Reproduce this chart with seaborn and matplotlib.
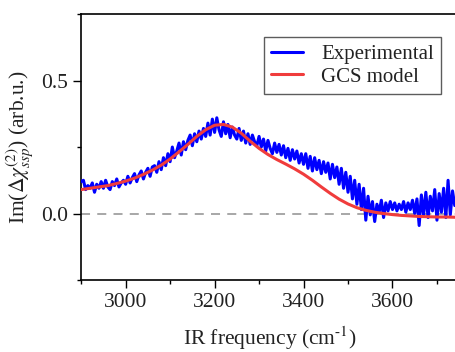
import numpy as np
import pandas as pd
import matplotlib
matplotlib.use("Agg")
import matplotlib.pyplot as plt
from matplotlib.ticker import MultipleLocator, FixedLocator
import seaborn as sns

# Experimental spectrum, sampled every 5 cm^-1 from 2900 to 3740 cm^-1
exp_freq = list(range(2900, 3745, 5))
exp_im = [
    0.12, 0.125, 0.09, 0.105, 0.095, 0.115, 0.08, 0.11, 0.095, 0.12,
    0.095, 0.125, 0.10, 0.09, 0.12, 0.105, 0.13, 0.10, 0.115, 0.125,
    0.11, 0.14, 0.115, 0.135, 0.15, 0.12, 0.145, 0.16, 0.13, 0.155,
    0.17, 0.14, 0.175, 0.18, 0.155, 0.195, 0.165, 0.21, 0.18, 0.225,
    0.195, 0.25, 0.21, 0.235, 0.265, 0.22, 0.27, 0.24, 0.275, 0.295,
    0.255, 0.30, 0.27, 0.31, 0.28, 0.32, 0.29, 0.34, 0.295, 0.355,
    0.305, 0.36, 0.315, 0.29, 0.345, 0.30, 0.335, 0.285, 0.325, 0.295,
    0.28, 0.32, 0.275, 0.31, 0.265, 0.30, 0.26, 0.295, 0.27, 0.255,
    0.29, 0.25, 0.28, 0.235, 0.275, 0.245, 0.225, 0.265, 0.23, 0.26,
    0.22, 0.255, 0.21, 0.245, 0.20, 0.24, 0.205, 0.235, 0.19, 0.225,
    0.185, 0.225, 0.17, 0.215, 0.16, 0.21, 0.165, 0.20, 0.15, 0.195,
    0.155, 0.19, 0.13, 0.185, 0.135, 0.175, 0.11, 0.17, 0.095, 0.155,
    0.08, 0.14, 0.055, 0.125, 0.035, 0.11, 0.015, 0.095, -0.025, 0.065,
    -0.005, 0.045, -0.03, 0.035, 0.005, 0.05, -0.015, 0.04, 0.01, 0.045,
    0.015, 0.04, 0.01, 0.035, 0.015, 0.045, 0.005, 0.04, 0.015, 0.05,
    0.0, 0.055, -0.045, 0.07, -0.005, 0.08, -0.015, 0.065, 0.01, 0.09,
    -0.025, 0.075, 0.005, 0.095, -0.015, 0.125, -0.005, 0.085, 0.03,
]

# GCS model curve, every 20 cm^-1
model_freq = list(range(2900, 3760, 20))
model_im = [
    0.090, 0.095, 0.100, 0.105, 0.113, 0.122, 0.133, 0.147, 0.163, 0.182,
    0.205, 0.232, 0.260, 0.290, 0.315, 0.332, 0.335, 0.325, 0.302, 0.272,
    0.245, 0.222, 0.203, 0.186, 0.168, 0.148, 0.125, 0.100, 0.076, 0.054,
    0.036, 0.022, 0.012, 0.005, 0.000, -0.004, -0.007, -0.009, -0.011, -0.012,
    -0.013, -0.013, -0.014,
]

series_names = ["Experimental", "GCS model"]
series_colors = ["#0000ff", "#f03c3c"]

df = pd.concat([
    pd.DataFrame({"freq": exp_freq, "im": exp_im, "series": series_names[0]}),
    pd.DataFrame({"freq": model_freq, "im": model_im, "series": series_names[1]}),
])

sns.set_theme(style="ticks")
plt.rcParams["font.family"] = ["Liberation Serif", "DejaVu Serif"]
plt.rcParams["mathtext.fontset"] = "stix"

fig = plt.figure(figsize=(4.56, 3.52), dpi=100)
ax = fig.add_axes([0.178, 0.2045, 0.829, 0.7555])

ax.axhline(0, color="#a0a0a0", lw=1.3, ls=(0, (5, 4)), zorder=1)

sns.lineplot(data=df, x="freq", y="im", hue="series", hue_order=series_names,
             palette=series_colors, linewidth=2.2, ax=ax, sort=True,
             estimator=None, zorder=3)

ax.set_xlim(2900, 3750)
ax.set_ylim(-0.25, 0.75)
ax.xaxis.set_major_locator(FixedLocator([3000, 3200, 3400, 3600]))
ax.xaxis.set_minor_locator(FixedLocator([2900, 3100, 3300, 3500, 3700]))
ax.yaxis.set_major_locator(MultipleLocator(0.5))
ax.yaxis.set_minor_locator(MultipleLocator(0.25))
ax.tick_params(which="major", direction="out", length=6, width=1.0,
               labelsize=15.5, color="black", labelcolor="#222222",
               top=False, right=False)
ax.tick_params(which="minor", direction="out", length=3, width=1.0,
               color="black", top=False, right=False)
for s in ax.spines.values():
    s.set_color("black")
    s.set_linewidth(1.2)

ax.set_xlabel("IR frequency (cm$^{\\mathregular{\u2010}1}$)", fontsize=15.5,
              color="#222222", labelpad=9)
ax.set_ylabel("Im($\\Delta\\chi^{(2)}_{ssp}$) (arb.u.)", fontsize=15.5,
              color="#222222", labelpad=4)

handles, labels = ax.get_legend_handles_labels()
leg = ax.legend(handles, labels, loc="upper left",
                bbox_to_anchor=(264 / 456, 1 - 37 / 352),
                bbox_transform=fig.transFigure,
                fontsize=15, frameon=True, fancybox=False,
                edgecolor="#333333", handlelength=1.5, handletextpad=0.9,
                labelspacing=0.15, borderpad=0.35, borderaxespad=0)
leg.get_frame().set_linewidth(1.0)
for t in leg.get_texts():
    t.set_color("#222222")

fig.savefig("out.png", dpi=100)
